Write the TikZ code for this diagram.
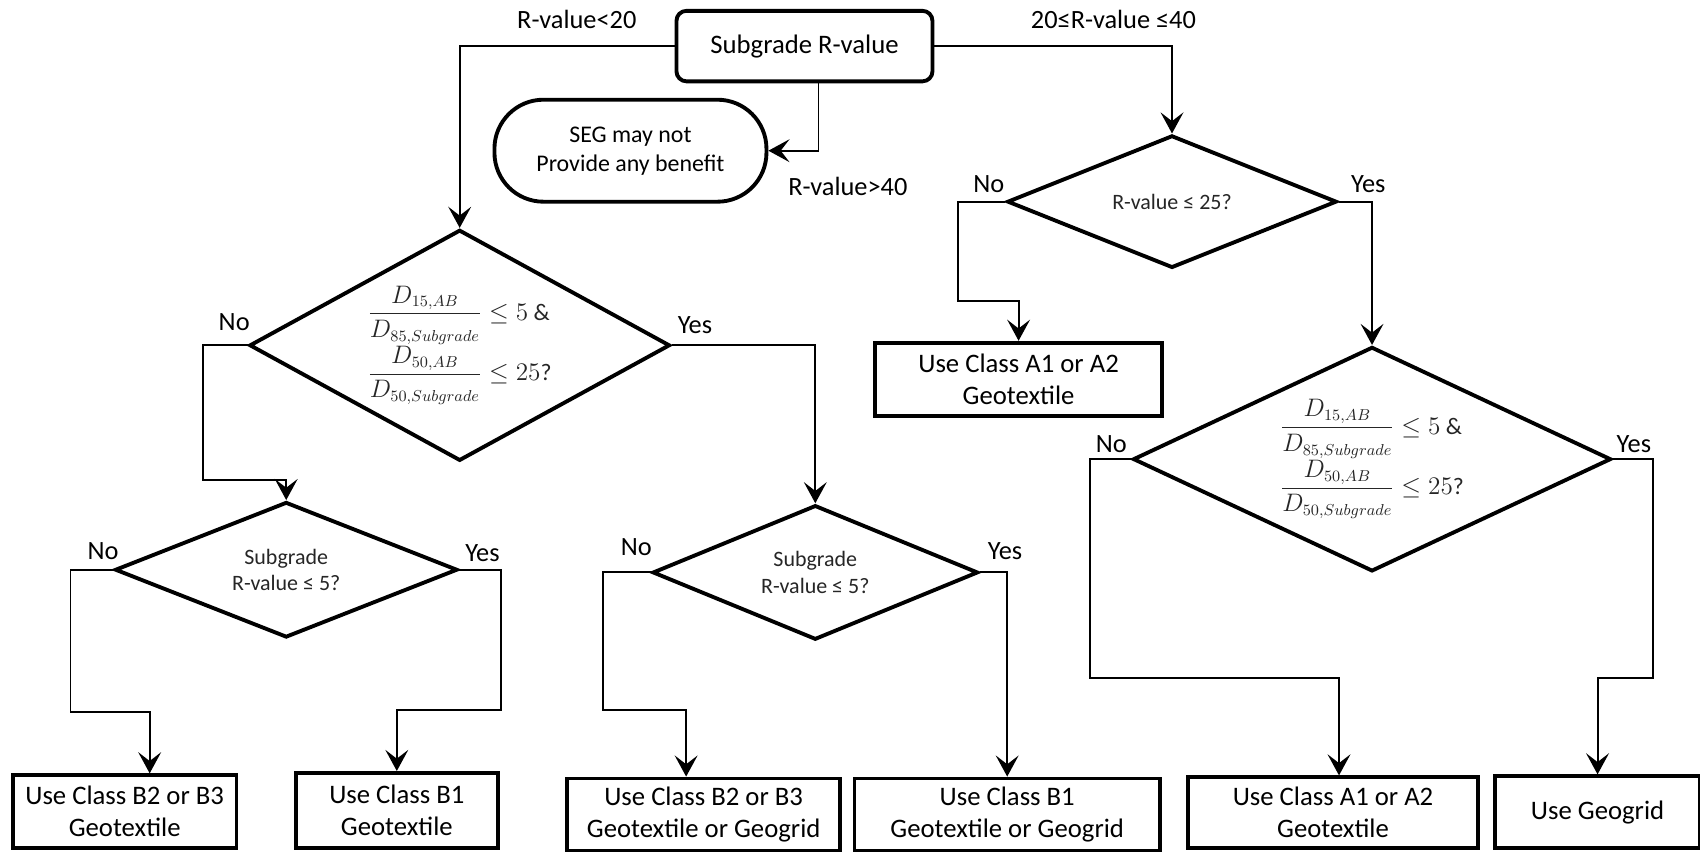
\documentclass[tikz,border=0pt]{standalone}
\usepackage{amsmath}
\usepackage{fontspec}
\setmainfont{Carlito}
\usetikzlibrary{shapes.geometric,arrows.meta}

\begin{document}
\begin{tikzpicture}[x=0.021684cm, y=-0.021684cm,
    box/.style={rectangle, draw, line width=2.2pt, align=center, inner sep=0pt, font=\fontsize{15.2}{18}\selectfont},
    decision/.style={diamond, draw, line width=2.2pt, align=center, inner sep=0pt, shape aspect=2.5, text=black!85, font=\fontsize{12.5}{15}\selectfont},
    ratio/.style={decision, shape aspect=1.8, align=left, font=\fontsize{13.5}{16}\selectfont},
    lbl/.style={inner sep=0pt, font=\fontsize{15}{17}\selectfont}]
   \useasboundingbox (0,0) rectangle (1568,785);
   % start and stop
   \node[box, rounded corners=0.2cm, minimum width=5.12cm, minimum height=1.41cm] (grade) at (742,42.5) {Subgrade R-value};
   \node[box, rounded corners=0.98cm, minimum width=5.44cm, minimum height=2.04cm, font=\fontsize{13.6}{16.5}\selectfont] (nobenefit) at (581.5,139) {SEG may not\\Provide any benefit};
   % decisions
   \node[decision, minimum width=6.59cm, minimum height=2.65cm] (rtwentyfive) at (1081,186) {R-value ≤ 25?};
   \node[ratio, minimum width=8.41cm, minimum height=4.62cm] (ratioleft) at (424,318.5)
      {\(\dfrac{D_{15,AB}}{D_{85,Subgrade}}\leq 5\) \&\\\(\dfrac{D_{50,AB}}{D_{50,Subgrade}}\leq 25\)?};
   \node[ratio, minimum width=9.56cm, minimum height=4.49cm] (ratioright) at (1265.5,423.5)
      {\(\dfrac{D_{15,AB}}{D_{85,Subgrade}}\leq 5\) \&\\\(\dfrac{D_{50,AB}}{D_{50,Subgrade}}\leq 25\)?};
   \node[decision, minimum width=6.85cm, minimum height=2.71cm] (fiveleft) at (264,525.5) {Subgrade\\R-value ≤ 5?};
   \node[decision, minimum width=6.51cm, minimum height=2.69cm] (fivemid) at (752,528) {Subgrade\\R-value ≤ 5?};
   % results
   \node[box, minimum width=5.75cm, minimum height=1.47cm] (aonemid) at (939.5,350) {Use Class A1 or A2\\Geotextile};
   \node[box, minimum width=4.47cm, minimum height=1.45cm] (bone) at (115,748.5) {Use Class B2 or B3\\Geotextile};
   \node[box, minimum width=4.03cm, minimum height=1.50cm] (btwo) at (366,747.5) {Use Class B1\\Geotextile};
   \node[box, minimum width=5.46cm, minimum height=1.45cm] (bthree) at (649,751.5) {Use Class B2 or B3\\Geotextile or Geogrid};
   \node[box, minimum width=6.11cm, minimum height=1.45cm] (bfour) at (929,751.5) {Use Class B1\\Geotextile or Geogrid};
   \node[box, minimum width=5.79cm, minimum height=1.41cm] (bfive) at (1229.5,749.5) {Use Class A1 or A2\\Geotextile};
   \node[box, minimum width=4.10cm, minimum height=1.43cm] (bsix) at (1473.5,749) {Use Geogrid};
   % branch labels
   \node[lbl] (lowlbl) at (532,18) {R-value<20};
   \node[lbl] (midlbl) at (1027,18) {20≤R-value ≤40};
   \node[lbl] (highlbl) at (782,172) {R-value>40};
   \node[lbl] (no1) at (912,170) {No};
   \node[lbl] (yes1) at (1262,170) {Yes};
   \node[lbl] (no2) at (216,297) {No};
   \node[lbl] (yes2) at (641,300) {Yes};
   \node[lbl] (no3) at (95,508) {No};
   \node[lbl] (yes3) at (445,510) {Yes};
   \node[lbl] (no4) at (587,505) {No};
   \node[lbl] (yes4) at (927,508) {Yes};
   \node[lbl] (no5) at (1025,410) {No};
   \node[lbl] (yes5) at (1507,410) {Yes};
   % bends
   \coordinate (k1) at (884,278);
   \coordinate (k2) at (187,443);
   \coordinate (k3) at (65,657);
   \coordinate (k4) at (462,655);
   \coordinate (k5) at (556,655);
   \coordinate (k6) at (1005,625);
   \coordinate (k7) at (1525,625);
   \begin{scope}[->, >={Stealth[length=12pt, width=13pt, inset=5pt]}, line width=1.1pt]
    \draw (grade.west) -| (ratioleft.north);
    \draw (grade.east) -| (rtwentyfive.north);
    \draw ([xshift=0.28cm]grade.south) |- (nobenefit.east);
    \draw (rtwentyfive.west) -| (k1) -| (aonemid.north);
    \draw (rtwentyfive.east) -| (ratioright.north);
    \draw (ratioleft.west) -| (k2) -| (fiveleft.north);
    \draw (ratioleft.east) -| (fivemid.north);
    \draw (fiveleft.west) -| (k3) -| ([xshift=0.5cm]bone.north);
    \draw (fiveleft.east) -| (k4) -| (btwo.north);
    \draw (fivemid.west) -| (k5) -| ([xshift=-0.35cm]bthree.north);
    \draw (fivemid.east) -| (bfour.north);
    \draw (ratioright.west) -| (k6) -| ([xshift=0.12cm]bfive.north);
    \draw (ratioright.east) -| (k7) -| (bsix.north);
   \end{scope}
\end{tikzpicture}
\end{document}
